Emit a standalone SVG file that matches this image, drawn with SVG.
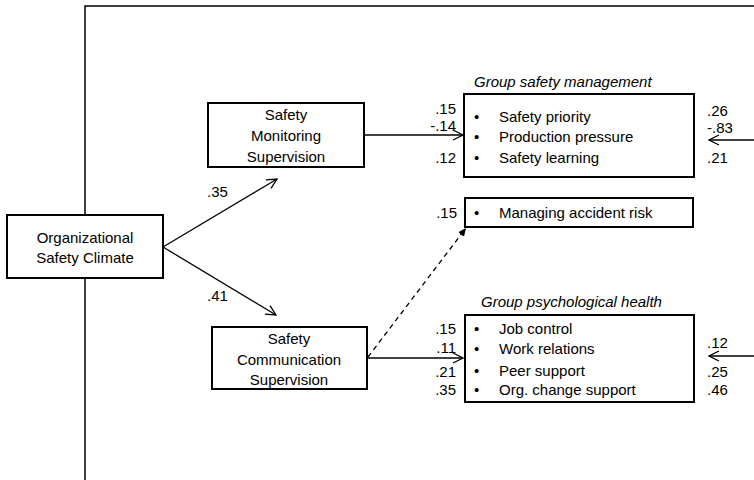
<svg xmlns="http://www.w3.org/2000/svg" width="754" height="480" viewBox="0 0 754 480">
  <style>
    text { font-family: "Liberation Sans", Arial, sans-serif; font-size: 15px; fill: #000; }
    .c { text-anchor: middle; }
    .r { text-anchor: end; }
    .title { font-style: italic; }
    .box { fill: #fff; stroke: #000; stroke-width: 2; }
    .frame { fill: none; stroke: #000; stroke-width: 1.5; }
    .path { fill: none; stroke: #000; stroke-width: 1.3; }
    .dash { stroke-dasharray: 5 4; }
  </style>
  <defs>
    <marker id="open" markerUnits="userSpaceOnUse" viewBox="0 0 12 12" refX="11" refY="6" markerWidth="12" markerHeight="12" orient="auto">
      <path d="M1,1 L11,6 L1,11" fill="none" stroke="#000" stroke-width="1.3"/>
    </marker>
    <marker id="solid" markerUnits="userSpaceOnUse" viewBox="0 0 10 10" refX="9" refY="5" markerWidth="9" markerHeight="9" orient="auto">
      <path d="M0,1 L9,5 L0,9 Z" fill="#000"/>
    </marker>
  </defs>

  <!-- outer frame -->
  <path class="frame" d="M85,480 L85,6 L754,6"/>

  <!-- connectors -->
  <g id="connectors">
    <line class="path" x1="163" y1="247" x2="277" y2="179" marker-end="url(#open)"/>
    <line class="path" x1="163" y1="247" x2="276" y2="315" marker-end="url(#open)"/>
    <line class="path" x1="364" y1="135" x2="463" y2="135" marker-end="url(#open)"/>
    <line class="path" x1="367" y1="358" x2="463" y2="358" marker-end="url(#open)"/>
    <line class="path dash" x1="368" y1="357" x2="466" y2="228" marker-end="url(#solid)"/>
    <line class="path" x1="754" y1="140" x2="709" y2="140" marker-end="url(#open)"/>
    <line class="path" x1="754" y1="356" x2="709" y2="356" marker-end="url(#open)"/>
    <text x="207" y="197">.35</text>
    <text x="207" y="301">.41</text>
  </g>

  <!-- Organizational Safety Climate -->
  <g id="org-climate">
    <rect class="box" x="7" y="215" width="156" height="63"/>
    <text class="c" x="85" y="243">Organizational</text>
    <text class="c" x="85" y="263">Safety Climate</text>
  </g>

  <!-- Safety Monitoring Supervision -->
  <g id="monitoring">
    <rect class="box" x="208" y="103" width="156" height="64"/>
    <text class="c" x="286" y="120">Safety</text>
    <text class="c" x="286" y="141">Monitoring</text>
    <text class="c" x="286" y="162">Supervision</text>
  </g>

  <!-- Safety Communication Supervision -->
  <g id="communication">
    <rect class="box" x="212" y="327" width="155" height="62"/>
    <text class="c" x="289" y="344">Safety</text>
    <text class="c" x="289" y="365">Communication</text>
    <text class="c" x="289" y="385">Supervision</text>
  </g>

  <!-- Group safety management -->
  <g id="safety-management">
    <text class="title" x="474" y="87">Group safety management</text>
    <rect class="box" x="464" y="94" width="230" height="83"/>
    <text x="474" y="122">•</text>
    <text x="499" y="122">Safety priority</text>
    <text x="474" y="142">•</text>
    <text x="499" y="142">Production pressure</text>
    <text x="474" y="163">•</text>
    <text x="499" y="163">Safety learning</text>
    <text class="r" x="456" y="114">.15</text>
    <text class="r" x="456" y="131">-.14</text>
    <text class="r" x="456" y="163">.12</text>
    <text x="707" y="116">.26</text>
    <text x="707" y="133">-.83</text>
    <text x="707" y="163">.21</text>
  </g>

  <!-- Managing accident risk -->
  <g id="accident-risk">
    <rect class="box" x="465" y="198" width="228" height="29"/>
    <text x="474" y="218">•</text>
    <text x="499" y="218">Managing accident risk</text>
    <text class="r" x="457" y="218">.15</text>
  </g>

  <!-- Group psychological health -->
  <g id="psych-health">
    <text class="title" x="481" y="307">Group psychological health</text>
    <rect class="box" x="465" y="315" width="229" height="87"/>
    <text x="474" y="334">•</text>
    <text x="499" y="334">Job control</text>
    <text x="474" y="354">•</text>
    <text x="499" y="354">Work relations</text>
    <text x="474" y="376">•</text>
    <text x="499" y="376">Peer support</text>
    <text x="474" y="395">•</text>
    <text x="499" y="395">Org. change support</text>
    <text class="r" x="456" y="334">.15</text>
    <text class="r" x="456" y="353">.11</text>
    <text class="r" x="456" y="377">.21</text>
    <text class="r" x="456" y="395">.35</text>
    <text x="707" y="348">.12</text>
    <text x="707" y="377">.25</text>
    <text x="707" y="395">.46</text>
  </g>
</svg>
